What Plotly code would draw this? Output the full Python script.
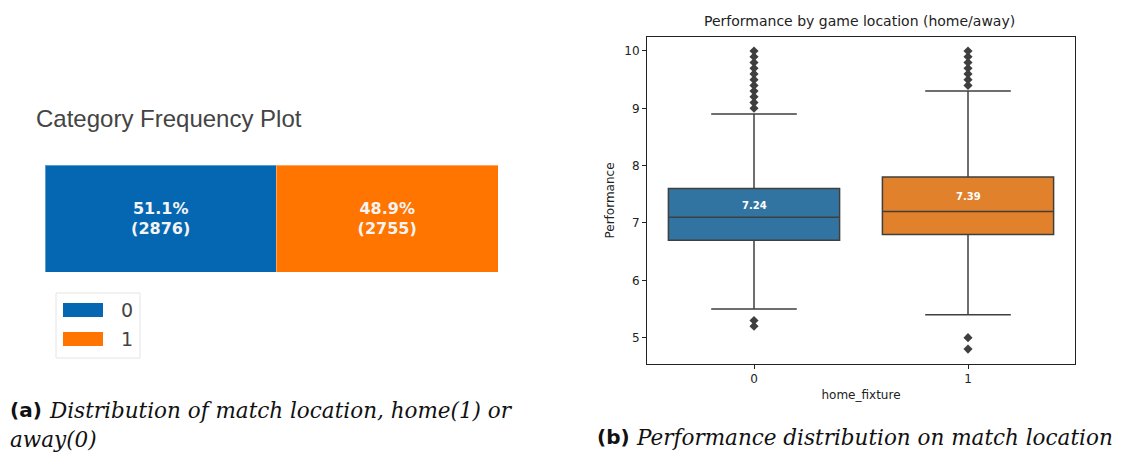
import plotly.graph_objects as go

W, H = 1127, 452

# ---- data: match location counts ----
location_labels = ["0", "1"]
location_counts = [2876, 2755]
location_colors = ["#0567B1", "#FF7500"]

# ---- data: performance box statistics by home_fixture ----
fixture_pos = [0, 1]
perf_q1 = [6.7, 6.8]
perf_median = [7.1, 7.2]
perf_q3 = [7.6, 7.8]
perf_lower = [5.5, 5.4]
perf_upper = [8.9, 9.3]
perf_mean = [7.24, 7.39]
box_colors = ["#3274A1", "#E1812C"]
outliers_away = [5.3, 5.2, 9.0, 9.1, 9.2, 9.3, 9.4, 9.5, 9.6, 9.7, 9.8, 9.9, 10.0]
outliers_home = [5.0, 4.8, 9.4, 9.5, 9.6, 9.7, 9.8, 9.9, 10.0]
perf_ticks = [5, 6, 7, 8, 9, 10]


def px(x):
    return x / W


def py(y):
    return 1 - y / H


fig = go.Figure()

# ---- stacked frequency bar ----
total = sum(location_counts)
for lab, n, col in zip(location_labels, location_counts, location_colors):
    fig.add_trace(go.Bar(
        x=[n], y=[0], orientation="h", name=lab,
        marker=dict(color=col, line=dict(color="rgba(255,255,255,0.35)", width=1)),
        width=1,
        text=[f"{100 * n / total:.1f}%<br>({n})"],
        textposition="inside", insidetextanchor="middle", textangle=0,
        constraintext="none",
        textfont=dict(family="DejaVu Sans", size=16, color="#F4F4F4", weight="bold"),
        xaxis="x", yaxis="y", showlegend=False, hoverinfo="skip",
    ))

# ---- box plots ----
line_gray = "#3F3F3F"
for pos, q1, med, q3, lo, hi, col in zip(fixture_pos, perf_q1, perf_median, perf_q3,
                                         perf_lower, perf_upper, box_colors):
    fig.add_trace(go.Box(
        x=[pos], q1=[q1], median=[med], q3=[q3], lowerfence=[lo], upperfence=[hi],
        fillcolor=col, line=dict(color=line_gray, width=1.5),
        width=0.8, whiskerwidth=0.5, boxpoints=False,
        xaxis="x2", yaxis="y2", showlegend=False, hoverinfo="skip",
    ))

for pos, pts in zip(fixture_pos, [outliers_away, outliers_home]):
    fig.add_trace(go.Scatter(
        x=[pos] * len(pts), y=pts, mode="markers",
        marker=dict(symbol="diamond", size=7, color=line_gray),
        xaxis="x2", yaxis="y2", showlegend=False, hoverinfo="skip",
    ))

annotations = []
for pos, m in zip(fixture_pos, perf_mean):
    annotations.append(dict(
        x=pos, y=m, xref="x2", yref="y2", text=f"{m:.2f}", showarrow=False,
        yshift=4, font=dict(family="DejaVu Sans", size=10, color="white", weight="bold"),
    ))

# ---- titles and captions ----
cap_font = dict(family="DejaVu Serif", size=21.5, color="#111111")
tag_font = dict(family="DejaVu Sans", size=20, color="#111111")
annotations += [
    dict(x=px(34), y=py(118), xref="paper", yref="paper", xanchor="left", yanchor="middle",
         text="Category Frequency Plot", showarrow=False,
         font=dict(family="Liberation Sans", size=24, color="#444444")),
    dict(x=px(860), y=py(21), xref="paper", yref="paper", xanchor="center", yanchor="middle",
         text="Performance by game location (home/away)", showarrow=False,
         font=dict(family="DejaVu Sans", size=14, color="#222222")),
    dict(x=px(8), y=py(410), xref="paper", yref="paper", xanchor="left", yanchor="middle",
         text="<b>(a)</b>", showarrow=False, font=tag_font),
    dict(x=px(47), y=py(410), xref="paper", yref="paper", xanchor="left", yanchor="middle",
         text="<i>Distribution of match location, home(1) or</i>", showarrow=False,
         font=cap_font),
    dict(x=px(8), y=py(439), xref="paper", yref="paper", xanchor="left", yanchor="middle",
         text="<i>away(0)</i>", showarrow=False, font=cap_font),
    dict(x=px(595), y=py(437), xref="paper", yref="paper", xanchor="left", yanchor="middle",
         text="<b>(b)</b>", showarrow=False, font=tag_font),
    dict(x=px(634), y=py(437), xref="paper", yref="paper", xanchor="left", yanchor="middle",
         text="<i>Performance distribution on match location</i>", showarrow=False,
         font=cap_font),
]

# ---- hand-drawn legend for the frequency bar ----
shapes = [dict(type="rect", xref="paper", yref="paper",
               x0=px(56), x1=px(140), y0=py(358), y1=py(293),
               line=dict(color="#E4E4E4", width=1), fillcolor="white", layer="below")]
for i, (lab, col) in enumerate(zip(location_labels, location_colors)):
    yc = 310 + 29 * i
    shapes.append(dict(type="rect", xref="paper", yref="paper",
                       x0=px(63), x1=px(103), y0=py(yc + 7), y1=py(yc - 7),
                       fillcolor=col, line=dict(width=0)))
    annotations.append(dict(x=px(119), y=py(yc), xref="paper", yref="paper",
                            xanchor="left", yanchor="middle", text=lab, showarrow=False,
                            font=dict(family="DejaVu Sans", size=19, color="#444444")))

axis_font = dict(family="DejaVu Sans", size=12, color="#222222")
fig.update_layout(
    width=W, height=H, margin=dict(l=0, r=0, t=0, b=0),
    paper_bgcolor="white", plot_bgcolor="white",
    barmode="stack", showlegend=False,
    xaxis=dict(domain=[px(45), px(498)], range=[0, total], visible=False, fixedrange=True),
    yaxis=dict(domain=[py(272), py(165)], range=[-0.5, 0.5], visible=False, fixedrange=True),
    xaxis2=dict(domain=[px(647), px(1075)], anchor="y2", range=[-0.5, 1.5],
                tickvals=fixture_pos, ticktext=[str(p) for p in fixture_pos],
                showline=True, mirror=True, linecolor="#222222", linewidth=1,
                ticks="outside", ticklen=4, tickcolor="#222222", showgrid=False, zeroline=False,
                tickfont=axis_font,
                title=dict(text="home_fixture", standoff=5, font=axis_font)),
    yaxis2=dict(domain=[py(364), py(37)], anchor="x2", range=[4.54, 10.244],
                tickvals=perf_ticks,
                showline=True, mirror=True, linecolor="#222222", linewidth=1,
                ticks="outside", ticklen=4, tickcolor="#222222", showgrid=False, zeroline=False,
                tickfont=axis_font,
                title=dict(text="Performance", standoff=7, font=axis_font)),
    annotations=annotations, shapes=shapes,
)

fig.write_html("out.html")
